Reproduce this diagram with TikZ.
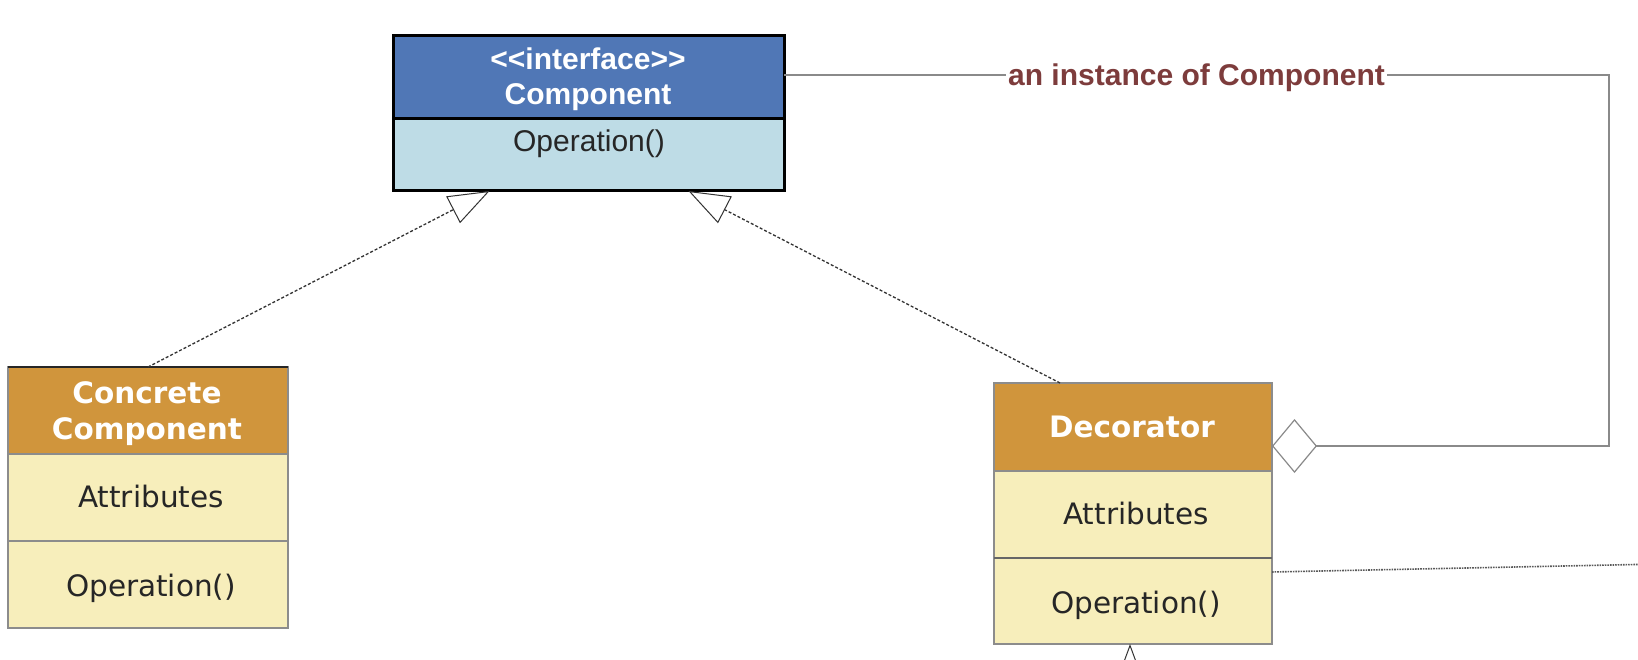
\documentclass[tikz,border=0pt]{standalone}
\usepackage{fontspec}
\newfontfamily\arialf[Ligatures=TeXOff]{Liberation Sans}
\newfontfamily\dejaf[Ligatures=TeXOff]{DejaVu Sans}
\usetikzlibrary{arrows.meta}
\definecolor{ifhead}{HTML}{5077B6}
\definecolor{ifbody}{HTML}{BEDCE6}
\definecolor{clhead}{HTML}{D0953C}
\definecolor{clbody}{HTML}{F7EEBB}
\definecolor{clborder}{HTML}{8C8C8C}
\definecolor{lblcol}{HTML}{7D3C3C}
\definecolor{conngray}{HTML}{8A8A8A}
\begin{document}
\begin{tikzpicture}[x=1pt,y=-1pt,
  part/.style={rectangle, inner sep=0pt, outer sep=0pt, anchor=north west},
  ifpart/.style={part, draw=black, line width=3pt},
  clpart/.style={part, draw=clborder, line width=1.4pt},
  txt/.style={inner sep=0pt, text height=21.5pt, text depth=0pt},
  iftitle/.style={txt, text=white, font=\arialf\bfseries\fontsize{30}{36}\selectfont},
  ifop/.style={txt, text=black!85, font=\arialf\fontsize{30}{36}\selectfont},
  cltitle/.style={txt, text=white, font=\dejaf\bfseries\fontsize{29.5}{36}\selectfont},
  clop/.style={txt, text=black!85, font=\dejaf\fontsize{29.5}{36}\selectfont},
  realize/.style={densely dashed, line width=1.3pt, black!80,
    -{Triangle[length=41pt, width=30pt, fill=white, line width=1pt]}},
  aggline/.style={line width=1.4pt, conngray,
    {Diamond[length=45pt, width=54pt, fill=white, line width=1.2pt]}-},
  agglabel/.style={inner sep=0pt, text height=21pt, text depth=0pt, fill=white, inner xsep=2pt, text=lblcol, font=\arialf\bfseries\fontsize{30}{34}\selectfont},
  depline/.style={densely dotted, line width=1.6pt, black!65},
  genline/.style={line width=1.1pt, black!80,
    -{Triangle[length=41pt, width=30pt, fill=white, line width=1pt]}}
]
\useasboundingbox (0,0) rectangle (1638,660);

% Component interface
\node[ifpart, fill=ifhead, minimum width=391pt, minimum height=83pt] (comph) at (393,36) {};
\node[ifpart, fill=ifbody, minimum width=391pt, minimum height=72pt] (compop) at (393,119) {};
\node[iftitle] (compt1) at (588,59) {<<interface>>};
\node[iftitle] (compt2) at (588,94) {Component};
\node[ifop] (compo) at (589,141) {Operation()};

% Concrete Component
\node[clpart, fill=clhead, minimum width=280pt, minimum height=87pt] (cch) at (8,367) {};
\node[clpart, fill=clbody, minimum width=280pt, minimum height=87pt] (cca) at (8,454) {};
\node[clpart, fill=clbody, minimum width=280pt, minimum height=87pt] (cco) at (8,541) {};
\draw[line width=1.4pt, black!85] (cch.north west) -- (cch.north east);
\node[cltitle] (cct1) at (147,393) {Concrete};
\node[cltitle] (cct2) at (147,429) {Component};
\node[clop] (ccat) at (151,497) {Attributes};
\node[clop] (ccop) at (151,586) {Operation()};

% Decorator
\node[clpart, fill=clhead, minimum width=278pt, minimum height=88pt] (dech) at (994,383) {};
\node[clpart, fill=clbody, minimum width=278pt, minimum height=87pt] (deca) at (994,471) {};
\node[clpart, fill=clbody, minimum width=278pt, minimum height=86pt] (deco) at (994,558) {};
\draw[line width=1.4pt, black!60] (deca.south west) -- (deca.south east);
\node[cltitle] (dect) at (1132,427) {Decorator};
\node[clop] (decat) at (1136,514) {Attributes};
\node[clop] (decop) at (1136,603) {Operation()};

% realizations
\draw[realize] (cch.north) -- ([xshift=-99pt]compop.south);
\draw[realize] ([xshift=-73pt]dech.north) -- ([xshift=100pt]compop.south);

% aggregation
\coordinate (agg1) at (1609,446);
\coordinate (agg2) at (1609,75);
\draw[aggline] ([yshift=-19pt]dech.east) -- (agg1) -- (agg2)
  -- node[agglabel] (agglbl) {an instance of Component} (agg2 -| comph.east);

% dotted line to the right
\coordinate (dotend) at (1660,564);
\draw[depline] ([yshift=-14pt]deco.north east) -- (dotend);

% generalization from below
\coordinate (below) at (1130,720);
\draw[genline] (below) -- (below |- deco.south);
\end{tikzpicture}
\end{document}
